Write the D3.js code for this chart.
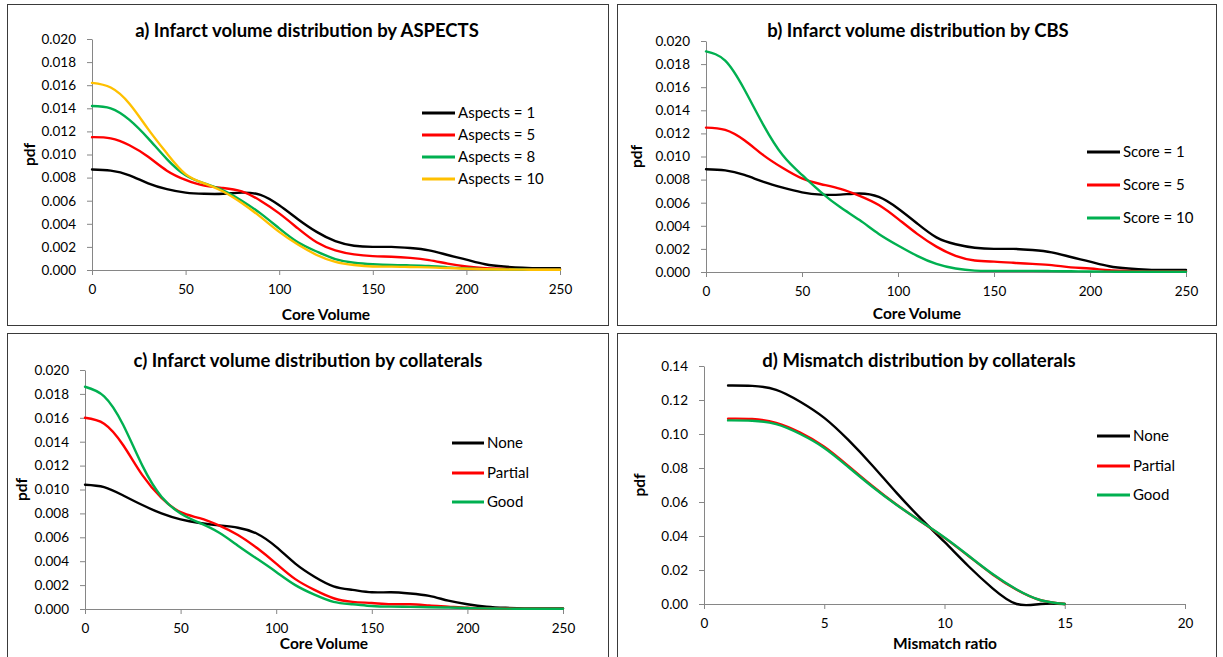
<!DOCTYPE html>
<html>
<head>
<meta charset="utf-8">
<script src="https://cdn.jsdelivr.net/npm/d3@7"></script>
<style>
    body { margin: 0; background: #fff; }
    svg { display: block; font-family: Lato, "Open Sans", sans-serif; }
    .frame { fill: #fff; stroke: #3a3a3a; stroke-width: 1; }
    .axis path, .axis line { stroke: #868686; }
    .axis text { fill: #000; font-size: 13.5px; font-family: Lato, sans-serif; }
    .title { font-size: 18.5px; font-weight: bold; }
    .axis-title { font-size: 15.5px; font-weight: bold; }
    .legend-label { font-size: 15px; }
    .curve { fill: none; stroke-width: 2.4; stroke-linejoin: round; stroke-linecap: round; }
</style>
</head>
<body>
<div id="chart"></div>
<script>
// Данные: объём ядра инфаркта (ось X панелей a, b, c)
const coreVolume = [0, 10, 20, 30, 40, 50, 60, 70, 80, 90, 100, 110, 120, 130, 140, 150, 160, 170, 180, 190, 200, 210, 220, 230, 240, 250];

// a) по ASPECTS
const aspects1  = [0.0087, 0.0086, 0.0082, 0.0075, 0.0070, 0.0067, 0.0066, 0.0066, 0.0067, 0.0065, 0.0056, 0.0044, 0.0033, 0.0025, 0.0021, 0.0020, 0.0020, 0.0019, 0.0017, 0.0013, 0.0009, 0.0005, 0.0003, 0.0002, 0.00015, 0.00015];
const aspects5  = [0.0115, 0.0114, 0.0108, 0.0098, 0.0086, 0.0078, 0.0073, 0.0071, 0.0068, 0.0060, 0.0049, 0.0036, 0.0024, 0.0017, 0.00135, 0.0012, 0.00115, 0.00105, 0.00086, 0.00055, 0.0003, 0.00015, 0.0001, 0.00005, 0.00005, 0.00005];
const aspects8  = [0.0142, 0.0140, 0.0130, 0.0114, 0.0096, 0.0082, 0.0075, 0.0069, 0.0060, 0.0049, 0.0036, 0.0024, 0.0016, 0.00095, 0.00063, 0.0005, 0.00043, 0.0004, 0.00035, 0.00023, 0.00014, 0.00008, 0.00005, 0.00004, 0.00003, 0.00003];
const aspects10 = [0.0162, 0.0158, 0.0144, 0.0122, 0.0101, 0.0083, 0.0075, 0.0068, 0.0058, 0.0046, 0.0033, 0.0022, 0.0013, 0.0007, 0.00043, 0.0003, 0.00029, 0.00026, 0.00023, 0.00017, 0.00011, 0.00007, 0.00004, 0.00003, 0.00002, 0.00002];

// b) по CBS
const score1  = [0.0089, 0.0088, 0.0084, 0.0078, 0.0073, 0.0069, 0.0067, 0.0067, 0.0068, 0.0065, 0.0055, 0.0042, 0.0030, 0.0024, 0.0021, 0.0020, 0.0020, 0.0019, 0.0017, 0.0013, 0.0009, 0.0005, 0.0003, 0.0002, 0.00017, 0.00017];
const score5  = [0.0125, 0.0123, 0.0114, 0.0101, 0.0090, 0.0081, 0.0076, 0.0072, 0.0066, 0.0058, 0.0046, 0.0033, 0.0022, 0.0014, 0.0010, 0.0009, 0.0008, 0.0007, 0.0006, 0.0004, 0.0003, 0.00015, 0.0001, 0.00005, 0.00005, 0.00005];
const score10 = [0.0191, 0.0183, 0.0158, 0.0127, 0.0101, 0.0084, 0.0069, 0.0056, 0.0045, 0.0033, 0.0023, 0.0014, 0.0007, 0.0003, 0.00012, 0.0001, 0.0001, 0.0001, 0.00008, 0.00006, 0.00004, 0.00003, 0.00002, 0.00002, 0.00002, 0.00002];

// c) по коллатералям
const collNone    = [0.0104, 0.0102, 0.0095, 0.0087, 0.0080, 0.0075, 0.0072, 0.0070, 0.0068, 0.0063, 0.0052, 0.0038, 0.0027, 0.0019, 0.0016, 0.0014, 0.0014, 0.0013, 0.0011, 0.0007, 0.0004, 0.0002, 0.0001, 0.00005, 0.00005, 0.00005];
const collPartial = [0.0160, 0.0155, 0.0137, 0.0112, 0.0093, 0.0081, 0.0076, 0.0070, 0.0062, 0.0051, 0.0038, 0.0025, 0.0016, 0.0009, 0.0006, 0.0005, 0.0004, 0.0004, 0.0003, 0.0002, 0.0001, 0.00006, 0.00004, 0.00003, 0.00002, 0.00002];
const collGood    = [0.0186, 0.0178, 0.0154, 0.0120, 0.0094, 0.0080, 0.0072, 0.0064, 0.0053, 0.0042, 0.0031, 0.0020, 0.0012, 0.0006, 0.0004, 0.00025, 0.0002, 0.00018, 0.00015, 0.00012, 0.00008, 0.00005, 0.00003, 0.00002, 0.00002, 0.00002];

// d) распределение mismatch
const mismatchRatio   = [1, 2, 3, 4, 5, 6, 7, 8, 9, 10, 11, 12, 13, 14, 15];
const mismatchNone    = [0.1285, 0.1283, 0.1260, 0.1190, 0.1095, 0.0965, 0.0815, 0.0655, 0.0505, 0.0365, 0.0222, 0.0092, 0.0000, 0.0000, 0.0000];
const mismatchPartial = [0.1090, 0.1088, 0.1065, 0.1008, 0.0925, 0.0812, 0.0694, 0.0585, 0.0487, 0.0389, 0.0282, 0.0174, 0.0084, 0.0022, 0.0000];
const mismatchGood    = [0.1080, 0.1078, 0.1058, 0.1000, 0.0918, 0.0806, 0.0690, 0.0584, 0.0487, 0.0391, 0.0284, 0.0176, 0.0085, 0.0022, 0.0000];

const coreTicks = [0, 50, 100, 150, 200, 250];
const pdfTicks = [0, 0.002, 0.004, 0.006, 0.008, 0.010, 0.012, 0.014, 0.016, 0.018, 0.020];
const mismatchTicks = [0, 5, 10, 15, 20];
const mismatchPdfTicks = [0, 0.02, 0.04, 0.06, 0.08, 0.10, 0.12, 0.14];

const BLACK = "#000000", RED = "#ff0000", GREEN = "#00b050", GOLD = "#ffc000";

const panels = [
    {
        title: "a) Infarct volume distribution by ASPECTS", xTitle: "Core Volume",
        frame: [7, 4, 601, 321], plot: { left: 92, right: 560, top: 39, bottom: 270 },
        titleX: 307, titleY: 37, xTitleX: 326, xTitleY: 320, pdfX: 35,
        x: coreVolume, xDomain: [0, 250], xTicks: coreTicks, xFmt: d3.format("d"),
        yDomain: [0, 0.02], yTicks: pdfTicks, yFmt: d3.format(".3f"),
        legend: { x1: 422, x2: 455, ys: [113, 135, 157, 179] },
        series: [
            { name: "Aspects = 1", values: aspects1, color: BLACK },
            { name: "Aspects = 5", values: aspects5, color: RED },
            { name: "Aspects = 8", values: aspects8, color: GREEN },
            { name: "Aspects = 10", values: aspects10, color: GOLD }
        ]
    },
    {
        title: "b) Infarct volume distribution by CBS", xTitle: "Core Volume",
        frame: [617, 4, 599, 321], plot: { left: 706, right: 1186, top: 41, bottom: 272 },
        titleX: 918, titleY: 37, xTitleX: 917, xTitleY: 319, pdfX: 642,
        x: coreVolume, xDomain: [0, 250], xTicks: coreTicks, xFmt: d3.format("d"),
        yDomain: [0, 0.02], yTicks: pdfTicks, yFmt: d3.format(".3f"),
        legend: { x1: 1087, x2: 1120, ys: [152, 185, 218] },
        series: [
            { name: "Score = 1", values: score1, color: BLACK },
            { name: "Score = 5", values: score5, color: RED },
            { name: "Score = 10", values: score10, color: GREEN }
        ]
    },
    {
        title: "c) Infarct volume distribution by collaterals", xTitle: "Core Volume",
        frame: [7, 333, 601, 330], plot: { left: 85, right: 563, top: 370, bottom: 609 },
        titleX: 308, titleY: 367, xTitleX: 324, xTitleY: 649, pdfX: 27,
        x: coreVolume, xDomain: [0, 250], xTicks: coreTicks, xFmt: d3.format("d"),
        yDomain: [0, 0.02], yTicks: pdfTicks, yFmt: d3.format(".3f"),
        legend: { x1: 452, x2: 484, ys: [443, 473, 502] },
        series: [
            { name: "None", values: collNone, color: BLACK },
            { name: "Partial", values: collPartial, color: RED },
            { name: "Good", values: collGood, color: GREEN }
        ]
    },
    {
        title: "d) Mismatch distribution by collaterals", xTitle: "Mismatch ratio",
        frame: [617, 333, 599, 330], plot: { left: 704, right: 1185, top: 366, bottom: 604 },
        titleX: 919, titleY: 367, xTitleX: 945, xTitleY: 649, pdfX: 645,
        x: mismatchRatio, xDomain: [0, 20], xTicks: mismatchTicks, xFmt: d3.format("d"),
        yDomain: [0, 0.14], yTicks: mismatchPdfTicks, yFmt: d3.format(".2f"),
        legend: { x1: 1097, x2: 1130, ys: [436, 466, 495] },
        series: [
            { name: "None", values: mismatchNone, color: BLACK },
            { name: "Partial", values: mismatchPartial, color: RED },
            { name: "Good", values: mismatchGood, color: GREEN }
        ]
    }
];

const svg = d3.select("#chart").append("svg")
    .attr("width", 1223)
    .attr("height", 657);

panels.forEach(drawPanel);

function drawPanel(p) {
    const g = svg.append("g");
    const [fx, fy, fw, fh] = p.frame;

    g.append("rect").attr("class", "frame")
        .attr("x", fx + 0.5).attr("y", fy + 0.5)
        .attr("width", fw).attr("height", fh);

    const x = d3.scaleLinear().domain(p.xDomain).range([p.plot.left, p.plot.right]);
    const y = d3.scaleLinear().domain(p.yDomain).range([p.plot.bottom, p.plot.top]);

    g.append("g").attr("class", "axis")
        .attr("transform", `translate(${p.plot.left},0)`)
        .call(d3.axisLeft(y).tickValues(p.yTicks).tickFormat(p.yFmt).tickSize(5).tickSizeOuter(0).tickPadding(11));

    g.append("g").attr("class", "axis")
        .attr("transform", `translate(0,${p.plot.bottom})`)
        .call(d3.axisBottom(x).tickValues(p.xTicks).tickFormat(p.xFmt).tickSize(5).tickSizeOuter(0).tickPadding(9));

    // сглаженная линия, как в Excel
    const line = d3.line()
        .x((d, i) => x(p.x[i]))
        .y(d => y(d))
        .curve(d3.curveNatural);

    p.series.forEach(s => {
        g.append("path").attr("class", "curve")
            .attr("d", line(s.values))
            .attr("stroke", s.color);
    });

    g.append("text").attr("class", "title")
        .attr("x", p.titleX).attr("y", p.titleY)
        .attr("text-anchor", "middle")
        .text(p.title);

    g.append("text").attr("class", "axis-title")
        .attr("x", p.xTitleX).attr("y", p.xTitleY)
        .attr("text-anchor", "middle")
        .text(p.xTitle);

    const midY = (p.plot.top + p.plot.bottom) / 2;
    g.append("text").attr("class", "axis-title")
        .attr("transform", `translate(${p.pdfX},${midY}) rotate(-90)`)
        .attr("text-anchor", "middle")
        .text("pdf");

    p.series.forEach((s, i) => {
        const ly = p.legend.ys[i];
        g.append("line")
            .attr("x1", p.legend.x1).attr("x2", p.legend.x2)
            .attr("y1", ly).attr("y2", ly)
            .attr("stroke", s.color).attr("stroke-width", 3);
        g.append("text").attr("class", "legend-label")
            .attr("x", p.legend.x2 + 3).attr("y", ly + 5)
            .text(s.name);
    });
}
</script>
</body>
</html>
